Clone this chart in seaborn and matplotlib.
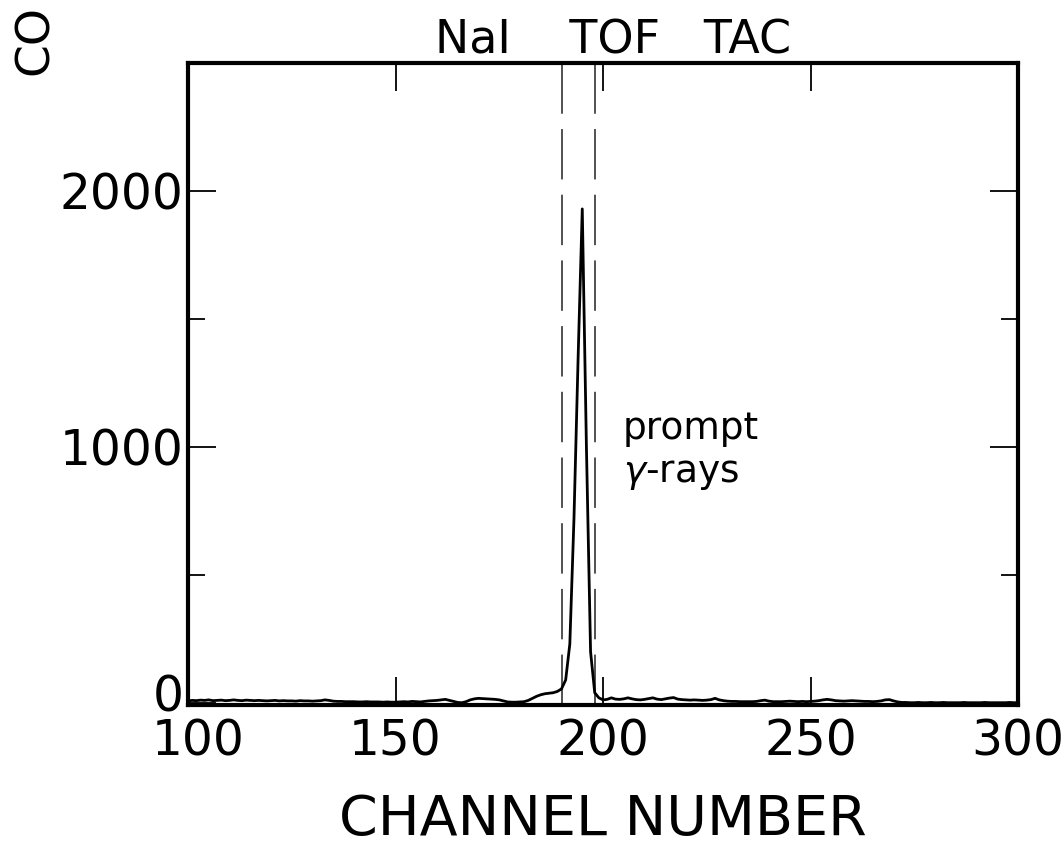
import numpy as np
import pandas as pd
import seaborn as sns
import matplotlib.pyplot as plt
from matplotlib.ticker import FixedLocator
from matplotlib.transforms import ScaledTranslation

# Time-of-flight TAC spectrum of the NaI detector, one count value per channel
channels = list(range(100, 301))
counts = [
    8, 10, 9, 11, 10, 12, 9, 10, 11, 9,            # 100-109
    10, 12, 10, 9, 11, 10, 9, 10, 9, 8,            # 110-119
    9, 10, 8, 9, 8, 8, 7, 9, 8, 8,                 # 120-129
    7, 8, 9, 12, 10, 7, 6, 6, 5, 5,                # 130-139
    5, 4, 4, 5, 4, 4, 4, 3, 4, 3,                  # 140-149
    3, 4, 5, 4, 6, 5, 4, 6, 8, 9,                  # 150-159
    10, 12, 14, 10, 6, 2, 1, 5, 12, 16,            # 160-169
    18, 17, 16, 15, 14, 12, 8, 4, 3, 3,            # 170-179
    4, 5, 10, 18, 26, 32, 36, 38, 40, 45,          # 180-189
    55, 90, 230, 720, 1350, 1930, 1000, 200, 40, 20,  # 190-199
    12, 14, 20, 15, 14, 16, 20, 16, 13, 12,        # 200-209
    14, 17, 20, 15, 13, 16, 19, 21, 15, 13,        # 210-219
    12, 11, 12, 11, 10, 11, 13, 18, 12, 9,         # 220-229
    7, 6, 6, 5, 5, 5, 5, 6, 9, 11,                 # 230-239
    7, 5, 5, 5, 6, 7, 6, 5, 6, 5,                  # 240-249
    6, 7, 9, 12, 14, 12, 9, 8, 7, 8,               # 250-259
    9, 8, 7, 6, 6, 5, 6, 8, 12, 13,                # 260-269
    8, 4, 2, 2, 1, 1, 2, 1, 1, 2,                  # 270-279
    1, 1, 2, 1, 1, 1, 1, 2, 1, 1,                  # 280-289
    1, 1, 2, 1, 1, 1, 1, 1, 2, 1,                  # 290-299
    1,                                             # 300
]

# Gate limits around the prompt peak
gate_channels = [190, 198]

x_ticks = [100, 150, 200, 250, 300]
y_major = [0, 1000, 2000]
y_minor = [500, 1500]

spectrum = pd.DataFrame({"channel": channels, "counts": counts})

sns.set_theme(style="ticks")
plt.rcParams["font.family"] = ["DejaVu Sans"]
plt.rcParams["mathtext.fontset"] = "dejavusans"
plt.rcParams["text.color"] = "black"
plt.rcParams["axes.labelcolor"] = "black"
plt.rcParams["xtick.color"] = "black"
plt.rcParams["ytick.color"] = "black"

fig = plt.figure(figsize=(10.64, 8.56), dpi=100)
ax = fig.add_axes([0.1767, 0.1764, 0.9568 - 0.1767, 0.9264 - 0.1764])

sns.lineplot(data=spectrum, x="channel", y="counts", ax=ax,
             color="black", linewidth=2.0, zorder=3)

for g in gate_channels:
    ax.axvline(g, color="#222222", linewidth=1.1, dashes=(33, 10), zorder=2)

ax.set_xlim(100, 300)
ax.set_ylim(-8, 2500)

ax.xaxis.set_major_locator(FixedLocator(x_ticks))
ax.yaxis.set_major_locator(FixedLocator(y_major))
ax.yaxis.set_minor_locator(FixedLocator(y_minor))

ax.tick_params(which="both", direction="in", top=True, right=True,
               color="black", width=1.3, labelcolor="black")
ax.tick_params(which="major", length=20, labelsize=35)
ax.tick_params(which="minor", length=12)
ax.tick_params(axis="x", which="major", pad=9)
ax.tick_params(axis="y", which="major", pad=3)

for side in ["left", "right", "top", "bottom"]:
    ax.spines[side].set_linewidth(3.0)
    ax.spines[side].set_color("black")
    ax.spines[side].set_visible(True)

ax.set_xlabel("CHANNEL NUMBER", fontsize=40, labelpad=20, color="black")
ax.set_ylabel("")
ax.set_title("NaI    TOF   TAC", fontsize=33, pad=6, color="black", x=0.512)

# lift the zero label off the corner and nudge the first channel label right
fig.canvas.draw()
ylabels = ax.get_yticklabels()
ylabels[0].set_transform(ylabels[0].get_transform()
                         + ScaledTranslation(0, 10 / 100, fig.dpi_scale_trans))
xlabels = ax.get_xticklabels()
xlabels[0].set_transform(xlabels[0].get_transform()
                         + ScaledTranslation(10 / 100, 0, fig.dpi_scale_trans))

ax.text(204.8, 1031, "prompt", fontsize=27, va="baseline", ha="left")
ax.text(204.8, 863, r"$\gamma$-rays", fontsize=27, va="baseline", ha="left")

fig.text(0.033, 0.912, "CO", rotation=90, fontsize=34, ha="center", va="bottom")

fig.savefig("out.png", dpi=100, facecolor="white")
